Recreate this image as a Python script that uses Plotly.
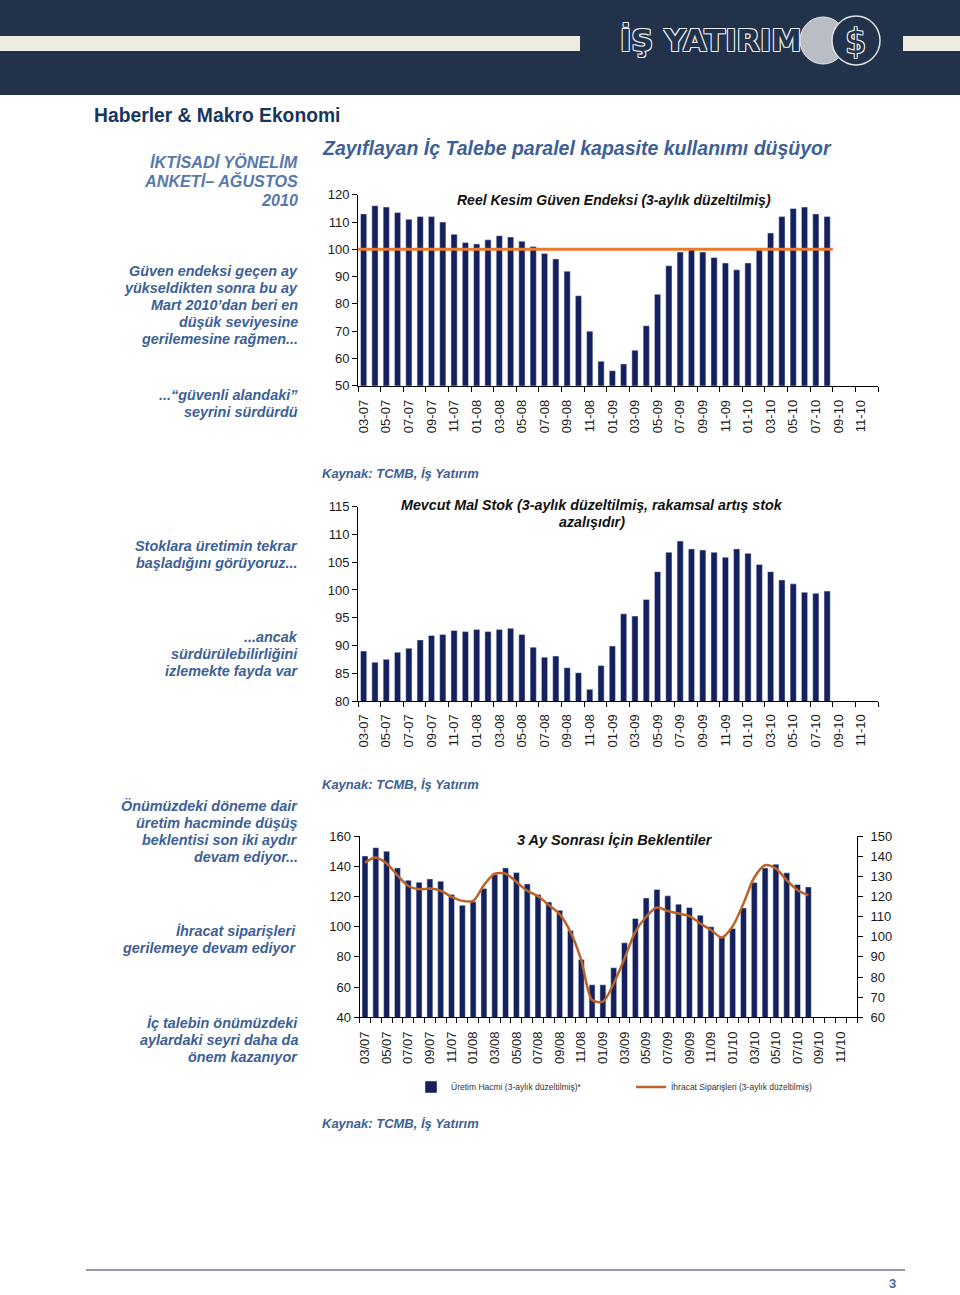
import plotly.graph_objects as go

W, H = 960, 1295

def px(x):
    return x / W

def py(y):
    return 1 - y / H

# ---------------- data ----------------
months = ["03-07", "04-07", "05-07", "06-07", "07-07", "08-07", "09-07", "10-07", "11-07", "12-07",
          "01-08", "02-08", "03-08", "04-08", "05-08", "06-08", "07-08", "08-08", "09-08", "10-08",
          "11-08", "12-08", "01-09", "02-09", "03-09", "04-09", "05-09", "06-09", "07-09", "08-09",
          "09-09", "10-09", "11-09", "12-09", "01-10", "02-10", "03-10", "04-10", "05-10", "06-10",
          "07-10", "08-10", "09-10", "10-10", "11-10", "12-10"]

tick_labels_dash = ["03-07", "05-07", "07-07", "09-07", "11-07", "01-08", "03-08", "05-08", "07-08",
                    "09-08", "11-08", "01-09", "03-09", "05-09", "07-09", "09-09", "11-09", "01-10",
                    "03-10", "05-10", "07-10", "09-10", "11-10"]
tick_labels_slash = ["03/07", "05/07", "07/07", "09/07", "11/07", "01/08", "03/08", "05/08", "07/08",
                     "09/08", "11/08", "01/09", "03/09", "05/09", "07/09", "09/09", "11/09", "01/10",
                     "03/10", "05/10", "07/10", "09/10", "11/10"]

guven_endeksi = [113, 116, 115.5, 113.5, 111, 112, 112, 110, 105.5, 102.5, 102, 103.5, 105, 104.5,
                 103, 101, 98.5, 96.5, 92, 83, 70, 59, 55.5, 58, 63, 72, 83.5, 94, 99, 100, 99, 97,
                 95, 92.5, 95, 100, 106, 112, 115, 115.5, 113, 112]
guven_esik = 100

mevcut_stok = [89, 87, 87.5, 88.8, 89.5, 91, 91.8, 92, 92.7, 92.5, 92.9, 92.5, 92.9, 93.1, 92, 89.7,
               87.9, 88.1, 86, 85.1, 82.1, 86.4, 89.9, 95.7, 95.3, 98.3, 103.3, 106.8, 108.8, 107.4,
               107.2, 106.8, 105.9, 107.4, 106.6, 104.6, 103.3, 101.8, 101.1, 99.6, 99.4, 99.8]

uretim_hacmi = [146.8, 152.3, 149.9, 138.9, 130.7, 129.4, 131.6, 130.1, 121.2, 114.1, 116.4, 125.2,
                134.5, 138.9, 135.8, 128.3, 121.3, 116.3, 110.8, 97.5, 78.3, 61.5, 61.5, 72.8, 89.3,
                105.4, 119.0, 124.6, 120.4, 114.9, 112.7, 107.6, 99.9, 93.3, 98.8, 112.4, 129.2,
                138.9, 141.3, 135.6, 127.9, 126.3]

ihracat_siparis = [136.8, 139.3, 136.3, 130.5, 125.2, 123.6, 123.9, 122.8, 119.8, 117.8, 117.8, 125.6,
                   131.3, 131.3, 127.2, 122.8, 120.1, 115.7, 111.2, 102.4, 88.4, 68.6, 67.8, 76.8,
                   89.2, 102.4, 109.9, 114.5, 112.8, 111.5, 110.2, 106.6, 103.3, 99.6, 105.2, 116.5,
                   129.4, 135.5, 133.8, 128, 123.1, 120.6]

# ---------------- styles ----------------
NAVY_BAR = "#14215e"
ORANGE = "#ea7a2c"
BROWN = "#bd6329"
BLUE_TXT = "#3d5f95"
FONT = "Arial, Liberation Sans, sans-serif"

idx = list(range(len(months)))
tick_pos = idx[::2]

fig = go.Figure()

# chart 1
fig.add_trace(go.Bar(x=idx[:len(guven_endeksi)], y=guven_endeksi, marker_color=NAVY_BAR,
                     width=0.55, xaxis="x", yaxis="y", showlegend=False))
fig.add_trace(go.Scatter(x=[-0.5, len(guven_endeksi) - 0.5], y=[guven_esik, guven_esik], mode="lines",
                         line=dict(color=ORANGE, width=3), xaxis="x", yaxis="y", showlegend=False))
# chart 2
fig.add_trace(go.Bar(x=idx[:len(mevcut_stok)], y=mevcut_stok, marker_color=NAVY_BAR,
                     width=0.55, xaxis="x2", yaxis="y2", showlegend=False))
# chart 3
fig.add_trace(go.Bar(x=idx[:len(uretim_hacmi)], y=uretim_hacmi, marker_color=NAVY_BAR,
                     width=0.55, xaxis="x3", yaxis="y3",
                     name="Üretim Hacmi (3-aylık düzeltilmiş)*"))
fig.add_trace(go.Scatter(x=idx[:len(ihracat_siparis)], y=ihracat_siparis, mode="lines",
                         line=dict(color=BROWN, width=2.5, shape="spline", smoothing=0.8),
                         xaxis="x3", yaxis="y4",
                         name="İhracat Siparişleri (3-aylık düzeltilmiş)"))

tickfont = dict(family=FONT, size=13, color="#1a1a1a")

def xaxis(dom, labels, minor_dt, anchor, standoff):
    return dict(domain=[px(dom[0]), px(dom[1])], range=[-0.5, len(months) - 0.5],
                tickmode="array", tickvals=tick_pos, ticktext=labels, tickangle=-90,
                ticks="outside", ticklen=0, tickfont=tickfont, automargin=False,
                ticklabelstandoff=standoff,
                minor=dict(tick0=-0.5, dtick=minor_dt, ticks="outside", ticklen=5,
                           tickcolor="black", showgrid=False),
                showline=True, linecolor="black", linewidth=1, showgrid=False,
                zeroline=False, anchor=anchor, fixedrange=True)

def yaxis(dom, rng, dt, anchor, side="left", standoff=0):
    return dict(domain=[py(dom[1]), py(dom[0])], range=rng, dtick=dt, tick0=rng[0],
                ticks="outside", ticklen=5, tickcolor="black", tickfont=tickfont,
                ticklabelstandoff=standoff,
                showline=True, linecolor="black", linewidth=1, showgrid=False, automargin=False,
                zeroline=False, anchor=anchor, side=side, fixedrange=True)

layout = dict(
    width=W, height=H, autosize=False,
    margin=dict(l=0, r=0, t=0, b=0, pad=0, autoexpand=False),
    paper_bgcolor="white", plot_bgcolor="rgba(0,0,0,0)",
    font=dict(family=FONT),
    xaxis=xaxis((358, 878), tick_labels_dash, 2, "y", 8),
    yaxis=yaxis((194.8, 385.7), [50, 120], 10, "x"),
    xaxis2=xaxis((358, 878), tick_labels_dash, 2, "y2", 7),
    yaxis2=yaxis((506.7, 701), [80, 115], 5, "x2"),
    xaxis3=xaxis((359.6, 857), tick_labels_slash, 1, "y3", 8),
    yaxis3=yaxis((836, 1017.3), [40, 160], 20, "x3"),
    showlegend=True,
    legend=dict(orientation="h", x=px(411), y=py(1087), xanchor="left", yanchor="middle",
                font=dict(family=FONT, size=8.5, color="#333"), entrywidth=175,
                bgcolor="rgba(0,0,0,0)", itemwidth=30),
)
y4 = yaxis((836, 1017.3), [60, 150], 10, "x3", side="right", standoff=5)
y4["overlaying"] = "y3"
layout["yaxis4"] = y4
fig.update_layout(**layout)

shapes = []
# header band
shapes.append(dict(type="rect", xref="paper", yref="paper", x0=0, x1=1, y0=py(95), y1=1,
                   fillcolor="#22324a", line_width=0, layer="below"))
shapes.append(dict(type="rect", xref="paper", yref="paper", x0=0, x1=px(580), y0=py(51), y1=py(36),
                   fillcolor="#eeebe1", line_width=0))
shapes.append(dict(type="rect", xref="paper", yref="paper", x0=px(903), x1=1, y0=py(51), y1=py(36),
                   fillcolor="#eeebe1", line_width=0))
# logo coins
shapes.append(dict(type="circle", xref="paper", yref="paper", x0=px(800), x1=px(846), y0=py(64), y1=py(17),
                   fillcolor="#b9bdc4", line=dict(color="#e6e8ec", width=1)))
shapes.append(dict(type="circle", xref="paper", yref="paper", x0=px(832), x1=px(880), y0=py(65), y1=py(16),
                   fillcolor="#22324a", line=dict(color="#dde1e6", width=1.5)))
# footer line
shapes.append(dict(type="line", xref="paper", yref="paper", x0=px(86), x1=px(905), y0=py(1270), y1=py(1270),
                   line=dict(color="#8e9cb3", width=2)))
fig.update_layout(shapes=shapes)

ann = []

def text(x, y, s, size, color, xanchor="left", bold=True, italic=False, family=FONT, shadow=None):
    t = s
    if italic:
        t = "<i>" + t + "</i>"
    if bold:
        t = "<b>" + t + "</b>"
    f = dict(family=family, size=size, color=color)
    if shadow:
        f["shadow"] = shadow
    ann.append(dict(x=px(x), y=py(y), xref="paper", yref="paper", text=t, showarrow=False,
                    xanchor=xanchor, yanchor="middle", font=f))

def lines(x, y0, step, rows, size, color, xanchor="right", italic=True):
    for i, r in enumerate(rows):
        text(x, y0 + i * step, r, size, color, xanchor=xanchor, italic=italic)

OUTLINE = "1px 1px 0 #e8eaee, -1px -1px 0 #e8eaee, 1px -1px 0 #e8eaee, -1px 1px 0 #e8eaee"
# logo text
text(618, 40, "İŞ YATIRIM", 30.5, "#22324a", family="DejaVu Sans, Arial", bold=True, shadow=OUTLINE)
text(856, 41, "$", 34, "#22324a", xanchor="center", family="DejaVu Sans, Arial", bold=False,
     shadow=OUTLINE)

text(92, 115, "Haberler &amp; Makro Ekonomi", 19.3, "#17365d")
text(320, 148, "Zayıflayan İç Talebe paralel kapasite kullanımı düşüyor", 19.5, BLUE_TXT, italic=True)

# left column texts
LS = 14.4
XR = 300
lines(XR, 162, 19, ["İKTİSADİ YÖNELİM", "ANKETİ– AĞUSTOS", "2010"], 16.2, "#5878ac")
lines(XR, 271, 17, ["Güven endeksi geçen ay", "yükseldikten sonra bu ay", "Mart 2010’dan beri en",
                    "düşük seviyesine", "gerilemesine rağmen..."], LS, BLUE_TXT)
lines(XR, 395, 17, ["...“güvenli alandaki”", "seyrini sürdürdü"], LS, BLUE_TXT)
lines(XR, 546, 17, ["Stoklara üretimin tekrar", "başladığını görüyoruz..."], LS, BLUE_TXT)
lines(XR, 637, 17, ["...ancak", "sürdürülebilirliğini", "izlemekte fayda var"], LS, BLUE_TXT)
lines(XR, 806, 17, ["Önümüzdeki döneme dair", "üretim hacminde düşüş", "beklentisi son iki aydır",
                    "devam ediyor..."], LS, BLUE_TXT)
lines(XR - 2, 931, 17, ["İhracat siparişleri", "gerilemeye devam ediyor"], LS, BLUE_TXT)
lines(XR, 1023, 17, ["İç talebin önümüzdeki", "aylardaki seyri daha da", "önem kazanıyor"], LS, BLUE_TXT)

# chart titles
text(614, 200, "Reel Kesim Güven Endeksi (3-aylık düzeltilmiş)", 14, "#111", xanchor="center",
     italic=True)
lines(592, 505, 17, ["Mevcut Mal Stok (3-aylık düzeltilmiş, rakamsal artış stok", "azalışıdır)"],
      14.3, "#111", xanchor="center")
text(615, 840, "3 Ay Sonrası İçin Beklentiler", 14.5, "#111", xanchor="center", italic=True)

# sources
for yy in (473, 784, 1123):
    text(320, yy, "Kaynak: TCMB, İş Yatırım", 13, BLUE_TXT, italic=True)

# page number
text(892, 1283, "3", 13, "#4a6a9a", xanchor="center")

fig.update_layout(annotations=ann)

fig.write_html("out.html", config={"displayModeBar": False, "staticPlot": True},
               post_script=("document.documentElement.style.margin='0';"
                            "document.body.style.margin='0';document.body.style.padding='0';"
                            "document.documentElement.style.overflow='hidden';"
                            "document.body.style.overflow='hidden';"))
